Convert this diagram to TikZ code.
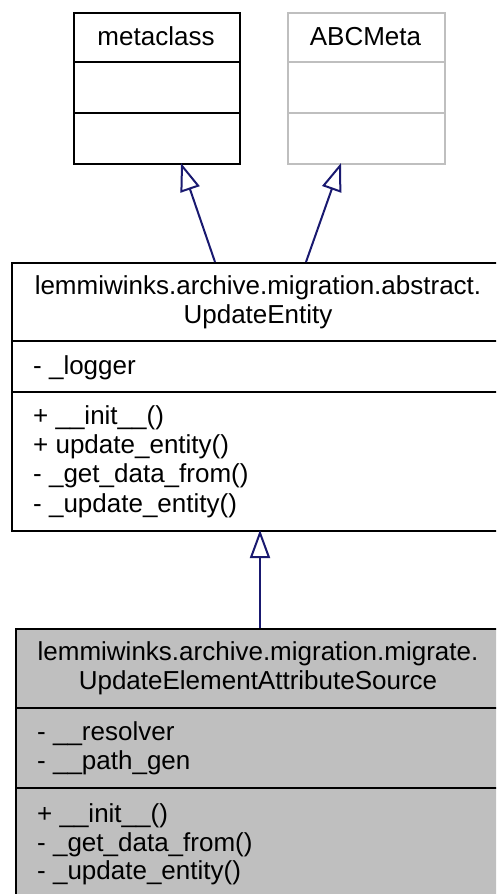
\documentclass[tikz,border=0pt]{standalone}
\usepackage{fontspec}
\setmainfont{Liberation Sans}
\usetikzlibrary{arrows.meta}
\definecolor{edgeblue}{HTML}{191970}
\definecolor{boxgray}{HTML}{BFBFBF}
\tikzset{
  umlbox/.style={draw=black, line width=2pt, fill=white, rectangle, inner sep=0pt, anchor=north west},
  graybox/.style={umlbox, draw=boxgray},
  curbox/.style={umlbox, fill=boxgray},
  divider/.style={line width=2pt},
  txt/.style={inner sep=0pt, font=\fontsize{26}{29}\selectfont},
  ctxt/.style={txt, anchor=base},
  ltxt/.style={txt, anchor=base west},
  inherit/.style={draw=edgeblue, line width=2pt, -{Triangle[length=28pt,width=20pt,fill=white]}}
}
\begin{document}
\begin{tikzpicture}[x=1pt,y=-1pt]
\useasboundingbox (0,0) rectangle (496,894);
\clip (0,0) rectangle (496,894);
% metaclass
\node[umlbox, minimum width=166pt, minimum height=151pt] (meta) at (73,12) {};
\draw[divider] (73,62) -- (239,62);
\draw[divider] (73,113) -- (239,113);
\node[ctxt] (metat) at (156,45) {metaclass};
% ABCMeta
\node[graybox, minimum width=157pt, minimum height=151pt] (abc) at (287,12) {};
\draw[divider, boxgray] (287,62) -- (444,62);
\draw[divider, boxgray] (287,113) -- (444,113);
\node[ctxt] (abct) at (365.5,45) {ABCMeta};
% UpdateEntity
\node[umlbox, minimum width=498pt, minimum height=268pt] (ue) at (11,262) {};
\draw[divider] (11,341) -- (509,341);
\draw[divider] (11,392) -- (509,392);
\node[ctxt] (uet1) at (258,294) {lemmiwinks.archive.migration.abstract.};
\node[ctxt] (uet2) at (258,323) {UpdateEntity};
\node[ltxt] (uea1) at (33,374) {- \_logger};
\node[ltxt] (uem1) at (33,424) {+ \_\_init\_\_()};
\node[ltxt] (uem2) at (33,453) {+ update\_entity()};
\node[ltxt] (uem3) at (33,482) {- \_get\_data\_from()};
\node[ltxt] (uem4) at (33,512) {- \_update\_entity()};
% UpdateElementAttributeSource
\node[curbox, minimum width=490pt, minimum height=280pt] (ueas) at (15,628) {};
\draw[divider] (15,708) -- (505,708);
\draw[divider] (15,788) -- (505,788);
\node[ctxt] (st1) at (258,660) {lemmiwinks.archive.migration.migrate.};
\node[ctxt] (st2) at (258,689) {UpdateElementAttributeSource};
\node[ltxt] (sa1) at (37,740) {- \_\_resolver};
\node[ltxt] (sa2) at (37,769) {- \_\_path\_gen};
\node[ltxt] (sm1) at (37,822) {+ \_\_init\_\_()};
\node[ltxt] (sm2) at (37,851) {- \_get\_data\_from()};
\node[ltxt] (sm3) at (37,879) {- \_update\_entity()};
% connectors
\coordinate (ueL) at (215,262);
\coordinate (metaB) at (181,163);
\coordinate (ueR) at (306,262);
\coordinate (abcB) at (341,163);
\coordinate (ueasT) at (260,628);
\coordinate (ueB) at (260,530);
\draw[inherit] (ueL) -- (metaB);
\draw[inherit] (ueR) -- (abcB);
\draw[inherit] (ueasT) -- (ueB);
\end{tikzpicture}
\end{document}
